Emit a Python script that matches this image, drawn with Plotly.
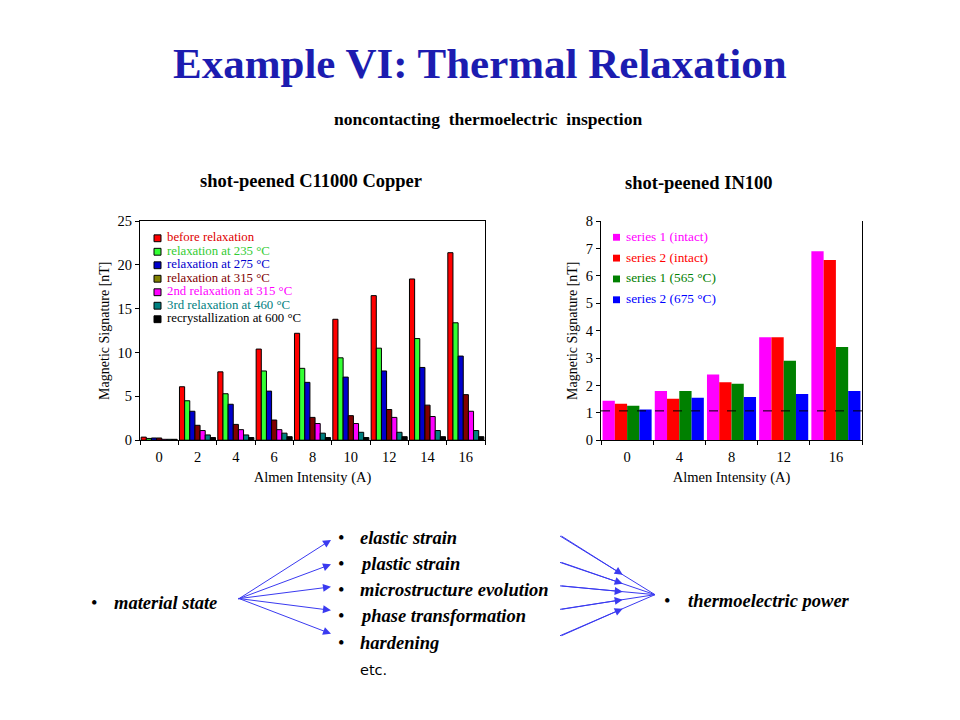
import plotly.graph_objects as go

W, H = 960, 720

# ---------------- data ----------------
left_categories = ["0", "2", "4", "6", "8", "10", "12", "14", "16"]
left_names = ["before relaxation", "relaxation at 235 °C", "relaxation at 275 °C",
              "relaxation at 315 °C", "2nd relaxation at 315 °C",
              "3rd relaxation at 460 °C", "recrystallization at 600 °C"]
before_relax = [0.35, 6.1, 7.8, 10.4, 12.2, 13.8, 16.5, 18.4, 21.4]
relax_235 = [0.2, 4.5, 5.3, 7.9, 8.2, 9.4, 10.5, 11.6, 13.4]
relax_275 = [0.25, 3.3, 4.1, 5.6, 6.6, 7.2, 7.9, 8.3, 9.6]
relax_315 = [0.25, 1.7, 1.8, 2.3, 2.6, 2.8, 3.5, 4.0, 5.2]
relax2_315 = [0.1, 1.1, 1.2, 1.2, 1.9, 1.9, 2.6, 2.7, 3.3]
relax3_460 = [0.1, 0.6, 0.6, 0.8, 0.8, 0.9, 0.9, 1.1, 1.1]
recryst_600 = [0.1, 0.3, 0.3, 0.4, 0.3, 0.3, 0.4, 0.4, 0.4]
left_values = [before_relax, relax_235, relax_275, relax_315, relax2_315, relax3_460, recryst_600]
left_colors = ["#FF0000", "#33FF33", "#0000CC", "#800000", "#FF00FF", "#008080", "#000000"]
left_swatch = ["#FF0000", "#33FF33", "#0000CC", "#808000", "#FF00FF", "#008080", "#000000"]
left_text_colors = ["#E00000", "#33CC33", "#0000CC", "#800000", "#FF00FF", "#008080", "#000000"]
left_ticks = [0, 5, 10, 15, 20, 25]

right_categories = ["0", "4", "8", "12", "16"]
right_names = ["series 1 (intact)", "series 2 (intact)", "series 1 (565 °C)", "series 2 (675 °C)"]
s1_intact = [1.44, 1.80, 2.40, 3.76, 6.90]
s2_intact = [1.33, 1.51, 2.12, 3.76, 6.58]
s1_565 = [1.26, 1.80, 2.06, 2.90, 3.40]
s2_675 = [1.12, 1.55, 1.58, 1.69, 1.80]
right_values = [s1_intact, s2_intact, s1_565, s2_675]
right_colors = ["#FF00FF", "#FF0000", "#008000", "#0000FF"]
right_text_colors = ["#FF00FF", "#FF0000", "#008000", "#0000FF"]
right_ticks = [0, 1, 2, 3, 4, 5, 6, 7, 8]
threshold = 1.07

causes = ["elastic strain", "plastic strain", "microstructure evolution",
          "phase transformation", "hardening"]

# ---------------- helpers ----------------
def px(x):
    return x / W

def py(y):
    return 1 - y / H

SERIF = '"Liberation Serif", "Times New Roman", serif'

fig = go.Figure()

for name, vals, col in zip(left_names, left_values, left_colors):
    fig.add_trace(go.Bar(x=left_categories, y=vals, name=name, marker=dict(color=col, line=dict(color="black", width=1)),
                         xaxis="x", yaxis="y", showlegend=False))
for name, vals, col in zip(right_names, right_values, right_colors):
    fig.add_trace(go.Bar(x=right_categories, y=vals, name=name, marker=dict(color=col, line=dict(width=0)),
                         xaxis="x2", yaxis="y2", showlegend=False))

axis_common = dict(showgrid=False, zeroline=False, showline=True, linecolor="black", linewidth=1,
                   ticks="outside", ticklen=4, tickcolor="black",
                   tickfont=dict(family=SERIF, size=14.5, color="black"))

fig.update_layout(
    width=W, height=H, margin=dict(l=0, r=0, t=0, b=0),
    paper_bgcolor="white", plot_bgcolor="white",
    barmode="group", bargap=0.06, bargroupgap=0,
    font=dict(family=SERIF, color="black"),
    xaxis=dict(domain=[px(140), px(485)], anchor="y", type="category", tickson="boundaries", mirror=True,
               ticklabelstandoff=3,
               title=dict(text="Almen Intensity (A)", font=dict(family=SERIF, size=14.5), standoff=8),
               **axis_common),
    yaxis=dict(domain=[py(442), py(218)], anchor="x", range=[0, 25], tickvals=left_ticks, mirror=True,
               title=dict(text="Magnetic Signature [nT]", font=dict(family=SERIF, size=14), standoff=4),
               **axis_common),
    xaxis2=dict(domain=[px(601), px(862)], anchor="y2", type="category", tickson="boundaries",
                ticklabelstandoff=3,
                title=dict(text="Almen Intensity (A)", font=dict(family=SERIF, size=14.5), standoff=8),
                **axis_common),
    yaxis2=dict(domain=[py(442), py(218)], anchor="x2", range=[0, 8], tickvals=right_ticks, mirror=True,
                title=dict(text="Magnetic Signature [nT]", font=dict(family=SERIF, size=14), standoff=4),
                **axis_common),
)

shapes = []
ann = []

# dashed threshold line on right chart
shapes.append(dict(type="line", xref="x2 domain", yref="y2", x0=0, x1=1, y0=threshold, y1=threshold,
                   line=dict(color="black", width=1, dash="dash")))

# titles
ann.append(dict(x=px(480), y=py(57), xref="paper", yref="paper", showarrow=False,
                text="<b>Example VI: Thermal Relaxation</b>",
                font=dict(family=SERIF, size=43, color="#1C1CB0"), xanchor="center", yanchor="middle"))
ann.append(dict(x=px(488), y=py(114), xref="paper", yref="paper", showarrow=False,
                text="<b>noncontacting  thermoelectric  inspection</b>",
                font=dict(family=SERIF, size=17.5, color="black"), xanchor="center", yanchor="middle"))
ann.append(dict(x=px(311), y=py(177), xref="paper", yref="paper", showarrow=False,
                text="<b>shot-peened C11000 Copper</b>",
                font=dict(family=SERIF, size=18.5, color="black"), xanchor="center", yanchor="middle"))
ann.append(dict(x=px(699), y=py(179), xref="paper", yref="paper", showarrow=False,
                text="<b>shot-peened IN100</b>",
                font=dict(family=SERIF, size=18.5, color="black"), xanchor="center", yanchor="middle"))

# left legend
for i, (name, sw, tc) in enumerate(zip(left_names, left_swatch, left_text_colors)):
    yc = 235.5 + i * 13.8
    shapes.append(dict(type="rect", xref="paper", yref="paper", x0=px(154), x1=px(161), y0=py(yc - 3.5), y1=py(yc + 3.5),
                       fillcolor=sw, line=dict(color="black", width=1)))
    ann.append(dict(x=px(165), y=py(yc - 1), xref="paper", yref="paper", showarrow=False, text=name,
                    font=dict(family=SERIF, size=12.8, color=tc), xanchor="left", yanchor="middle"))

# right legend
for i, (name, col, tc) in enumerate(zip(right_names, right_colors, right_text_colors)):
    yc = 234.5 + i * 21.3
    shapes.append(dict(type="rect", xref="paper", yref="paper", x0=px(613), x1=px(620), y0=py(yc - 3.5), y1=py(yc + 3.5),
                       fillcolor=col, line=dict(width=0)))
    ann.append(dict(x=px(624), y=py(yc - 1), xref="paper", yref="paper", showarrow=False, text=name,
                    font=dict(family=SERIF, size=13.3, color=tc), xanchor="left", yanchor="middle"))

# bottom diagram
BI = dict(family=SERIF, size=18.5, color="black")
dy = 5
ann.append(dict(x=px(89), y=py(604 + dy), xref="paper", yref="paper", showarrow=False, text="•",
                font=BI, xanchor="left", yanchor="middle"))
ann.append(dict(x=px(112), y=py(604 + dy), xref="paper", yref="paper", showarrow=False, text="<b><i>material state</i></b>",
                font=BI, xanchor="left", yanchor="middle"))
cause_y = [537, 564, 590, 617, 644]
for name, yc in zip(causes, cause_y):
    ann.append(dict(x=px(336), y=py(yc + dy), xref="paper", yref="paper", showarrow=False, text="•",
                    font=BI, xanchor="left", yanchor="middle"))
    ann.append(dict(x=px(358), y=py(yc + dy), xref="paper", yref="paper", showarrow=False, text="<b><i>" + name + "</i></b>",
                    font=BI, xanchor="left", yanchor="middle"))
ann.append(dict(x=px(358), y=py(670 + dy + 2), xref="paper", yref="paper", showarrow=False, text="etc.",
                font=dict(family="DejaVu Sans, sans-serif", size=14.5, color="black"), xanchor="left", yanchor="middle"))
ann.append(dict(x=px(662), y=py(601 + dy), xref="paper", yref="paper", showarrow=False, text="•",
                font=BI, xanchor="left", yanchor="middle"))
ann.append(dict(x=px(686), y=py(601 + dy), xref="paper", yref="paper", showarrow=False, text="<b><i>thermoelectric power</i></b>",
                font=BI, xanchor="left", yanchor="middle"))

ARROW = "#3A3AF0"
# arrows from material state to causes
src = (237, 604)
left_targets = [(331, 544), (331, 569), (331, 592), (331, 616), (331, 640)]
for tx, ty in left_targets:
    ann.append(dict(x=px(tx), y=py(ty), xref="paper", yref="paper", showarrow=True,
                    ax=src[0] - tx, ay=src[1] - ty, axref="pixel", ayref="pixel",
                    arrowhead=2, arrowsize=1.6, arrowwidth=1, arrowcolor=ARROW, text=""))
# arrows from causes to thermoelectric power (arrowheads mid-way)
dst = (655, 600)
right_sources = [(560, 540), (560, 567), (560, 591), (560, 615), (560, 642)]
for sx, sy in right_sources:
    f = 0.66
    mx, my = sx + f * (dst[0] - sx), sy + f * (dst[1] - sy)
    shapes.append(dict(type="line", xref="paper", yref="paper", x0=px(sx), y0=py(sy), x1=px(dst[0]), y1=py(dst[1]),
                       line=dict(color=ARROW, width=1)))
    ann.append(dict(x=px(mx), y=py(my), xref="paper", yref="paper", showarrow=True,
                    ax=sx - mx, ay=sy - my, axref="pixel", ayref="pixel",
                    arrowhead=2, arrowsize=1.6, arrowwidth=1, arrowcolor=ARROW, text=""))

fig.update_layout(shapes=shapes, annotations=ann)
fig.write_html("out.html", config={"displayModeBar": False},
               post_script="document.body.style.margin='0';document.body.style.padding='0';")
